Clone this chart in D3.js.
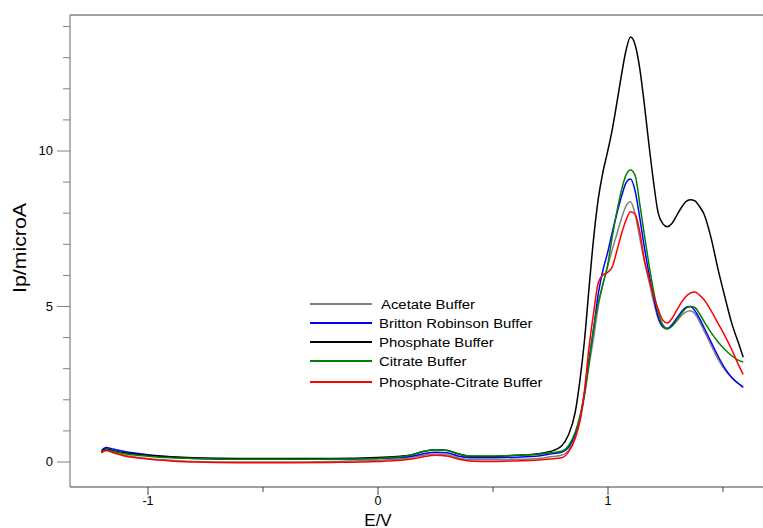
<!DOCTYPE html>
<html>
<head>
<meta charset="utf-8">
<script src="https://cdn.jsdelivr.net/npm/d3@7"></script>
<style>
  body { margin: 0; background: #fff; }
  text { font-family: "Liberation Sans", Arial, sans-serif; }
</style>
</head>
<body>
<div id="chart"></div>
<script>
const potential = [-1.2, -1.18, -1.15, -1.1, -1.0, -0.9, -0.8, -0.6, -0.4, -0.2, 0, 0.1, 0.15, 0.2, 0.25, 0.3, 0.35, 0.4, 0.5, 0.6, 0.7, 0.75,
  0.8, 0.83, 0.86, 0.88, 0.9, 0.92, 0.94, 0.96, 0.98, 1.0,
  1.02, 1.04, 1.06, 1.08, 1.1, 1.12, 1.14, 1.16, 1.18, 1.2, 1.22, 1.24, 1.26, 1.28, 1.3, 1.32, 1.34, 1.36, 1.38, 1.4, 1.42,
  1.45, 1.48, 1.51, 1.54, 1.57, 1.59]

const acetate = [0.28, 0.35, 0.3, 0.2, 0.1, 0.04, 0.0, -0.02, -0.02, 0.0, 0.04, 0.08, 0.12, 0.2, 0.24, 0.22, 0.12, 0.06, 0.06, 0.07, 0.1, 0.15,
  0.2, 0.35, 0.8, 1.3, 2.1, 3.1, 4.0, 5.0, 5.7, 6.25,
  6.8, 7.3, 7.8, 8.2, 8.35, 7.95, 7.2, 6.45, 5.8, 5.15, 4.6, 4.32, 4.25, 4.35, 4.5, 4.68, 4.8, 4.85, 4.75, 4.5, 4.2,
  3.75, 3.3, 2.95, 2.7, 2.5, 2.42]

const brittonRobinson = [0.35, 0.45, 0.4, 0.32, 0.22, 0.15, 0.1, 0.08, 0.08, 0.08, 0.1, 0.13, 0.17, 0.25, 0.3, 0.28, 0.18, 0.12, 0.12, 0.14, 0.18, 0.24,
  0.3, 0.45, 0.9, 1.4, 2.2, 3.3, 4.3, 5.4, 6.15, 6.7,
  7.35, 7.95, 8.5, 8.95, 9.08, 8.7, 7.85, 6.9, 6.05, 5.3, 4.65, 4.35, 4.28, 4.4, 4.6, 4.8, 4.95, 4.98, 4.85, 4.6, 4.3,
  3.85, 3.4, 3.0, 2.7, 2.5, 2.38]

const phosphate = [0.3, 0.4, 0.35, 0.28, 0.2, 0.15, 0.12, 0.1, 0.1, 0.1, 0.13, 0.17, 0.22, 0.32, 0.38, 0.36, 0.25, 0.17, 0.16, 0.2, 0.25, 0.32,
  0.5, 0.85, 1.6, 2.6, 3.9, 5.6, 7.2, 8.45, 9.3, 9.95,
  10.65, 11.5, 12.4, 13.2, 13.65, 13.4, 12.65, 11.5, 10.2, 9.0, 8.0, 7.65, 7.55, 7.65, 7.9, 8.15, 8.35, 8.42, 8.38, 8.2, 7.95,
  7.2, 6.2, 5.3, 4.45, 3.8, 3.35]

const citrate = [0.3, 0.38, 0.33, 0.25, 0.17, 0.12, 0.1, 0.07, 0.07, 0.08, 0.1, 0.15, 0.22, 0.33, 0.38, 0.35, 0.25, 0.18, 0.18, 0.2, 0.23, 0.28,
  0.33, 0.5, 0.95, 1.45, 2.2, 3.2, 4.3, 5.1, 5.7, 6.3,
  7.2, 8.0, 8.7, 9.2, 9.37, 9.2, 8.3, 7.3, 6.35, 5.5, 4.8, 4.4, 4.28, 4.35, 4.55, 4.75, 4.92, 4.98, 4.95, 4.75, 4.5,
  4.15, 3.85, 3.6, 3.4, 3.25, 3.2]

const phosphateCitrate = [0.3, 0.35, 0.28, 0.18, 0.08, 0.02, -0.02, -0.04, -0.04, -0.03, 0.0, 0.04, 0.08, 0.15, 0.2, 0.18, 0.08, 0.02, 0.0, 0.02, 0.05, 0.08,
  0.12, 0.3, 0.75, 1.3, 2.3, 3.7, 4.8, 5.75, 6.0, 6.08,
  6.25, 6.75, 7.3, 7.75, 8.03, 7.95, 7.4, 6.5, 5.9, 5.35, 4.9, 4.55, 4.45, 4.6, 4.85, 5.1, 5.3, 5.42, 5.45, 5.35, 5.2,
  4.85, 4.45, 4.05, 3.6, 3.1, 2.8]

const seriesNames = ['Acetate Buffer', 'Britton Robinson Buffer', 'Phosphate Buffer', 'Citrate Buffer', 'Phosphate-Citrate Buffer']
const seriesValues = [acetate, brittonRobinson, phosphate, citrate, phosphateCitrate]
const seriesColors = ['#808080', '#0000ff', '#000000', '#008000', '#ff0000']

const xMajorTicks = [-1, 0, 1]
const xMinorTicks = [-0.5, 0.5, 1.5]
const yMajorTicks = [0, 5, 10]
const yMinorTicks = [1, 2, 3, 4, 6, 7, 8, 9, 11, 12, 13, 14]

const width = 763
const height = 528
const plotLeft = 70, plotRight = 763, plotTop = 15, plotBottom = 487
const fontFamily = '"Liberation Sans", Arial, sans-serif'

const x = d3.scaleLinear()
  .domain([(plotLeft - 377.5) / 230, (plotRight - 377.5) / 230])
  .range([plotLeft, plotRight])

const y = d3.scaleLinear()
  .domain([(461.5 - plotBottom) / 31.1, (461.5 - plotTop) / 31.1])
  .range([plotBottom, plotTop])

const svg = d3.select('#chart')
  .append('svg')
  .attr('width', width)
  .attr('height', height)

// frame top line
svg.append('line')
  .attr('x1', plotLeft).attr('x2', plotRight)
  .attr('y1', plotTop).attr('y2', plotTop)
  .attr('stroke', '#404040')
  .attr('stroke-width', 1)

// y axis
const yAxis = svg.append('g')
  .attr('transform', `translate(${plotLeft},0)`)
  .call(d3.axisLeft(y).tickValues(yMajorTicks).tickFormat(d => String(d)).tickSize(13).tickPadding(4).tickSizeOuter(0))
yAxis.attr('font-family', fontFamily)
yAxis.select('.domain').remove()
yAxis.selectAll('.tick line').attr('stroke', '#808080')
yAxis.selectAll('.tick text').attr('font-size', 13).attr('fill', '#000')

svg.append('g')
  .attr('transform', `translate(${plotLeft},0)`)
  .call(d3.axisLeft(y).tickValues(yMinorTicks).tickSize(7).tickFormat(''))
  .call(g => g.select('.domain').remove())
  .call(g => g.selectAll('.tick line').attr('stroke', '#808080'))

svg.append('line')
  .attr('x1', plotLeft).attr('x2', plotLeft)
  .attr('y1', plotTop).attr('y2', plotBottom)
  .attr('stroke', '#808080')
  .attr('stroke-width', 1.2)

// x axis
const xAxis = svg.append('g')
  .attr('transform', `translate(0,${plotBottom})`)
  .call(d3.axisBottom(x).tickValues(xMajorTicks).tickFormat(d => String(d)).tickSize(8).tickPadding(1).tickSizeOuter(0))
xAxis.attr('font-family', fontFamily)
xAxis.select('.domain').remove()
xAxis.selectAll('.tick line').attr('stroke', '#404040')
xAxis.selectAll('.tick text').attr('font-size', 12.5).attr('fill', '#000')

svg.append('g')
  .attr('transform', `translate(0,${plotBottom})`)
  .call(d3.axisBottom(x).tickValues(xMinorTicks).tickSize(5).tickFormat(''))
  .call(g => g.select('.domain').remove())
  .call(g => g.selectAll('.tick line').attr('stroke', '#404040'))

svg.append('line')
  .attr('x1', plotLeft).attr('x2', plotRight)
  .attr('y1', plotBottom).attr('y2', plotBottom)
  .attr('stroke', '#404040')
  .attr('stroke-width', 1.2)

// axis titles
svg.append('text')
  .attr('x', 378)
  .attr('y', 525.5)
  .attr('text-anchor', 'middle')
  .attr('font-size', 17)
  .text('E/V')

svg.append('text')
  .attr('transform', 'translate(26,248) rotate(-90)')
  .attr('text-anchor', 'middle')
  .attr('font-size', 18)
  .attr('textLength', 90)
  .attr('lengthAdjust', 'spacingAndGlyphs')
  .text('Ip/microA')

// curves
const line = d3.line()
  .x(d => x(d[0]))
  .y(d => y(d[1]))
  .curve(d3.curveMonotoneX)

seriesValues.forEach((values, i) => {
  svg.append('path')
    .datum(potential.map((e, k) => [e, values[k]]))
    .attr('d', line)
    .attr('fill', 'none')
    .attr('stroke', seriesColors[i])
    .attr('stroke-width', 1.5)
    .attr('stroke-linejoin', 'round')
})

// legend
const legendY = [304, 323, 342, 361, 382]
const legendTextX = [381, 379, 379, 379, 379]
const legend = svg.append('g')
seriesNames.forEach((name, i) => {
  legend.append('line')
    .attr('x1', 310).attr('x2', 372)
    .attr('y1', legendY[i]).attr('y2', legendY[i])
    .attr('stroke', seriesColors[i])
    .attr('stroke-width', 2)
  const t = legend.append('text')
    .attr('x', legendTextX[i])
    .attr('y', legendY[i] + 4.5)
    .attr('font-size', 12)
    .text(name)
  t.attr('textLength', t.node().getComputedTextLength() * 1.24)
    .attr('lengthAdjust', 'spacingAndGlyphs')
})
</script>
</body>
</html>
